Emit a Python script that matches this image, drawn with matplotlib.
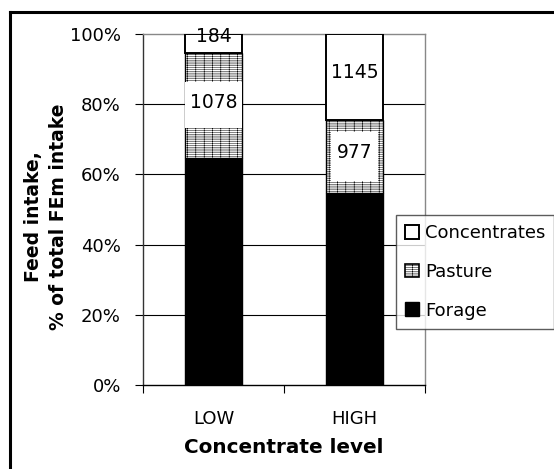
import matplotlib
matplotlib.use("Agg")
import matplotlib.pyplot as plt
from matplotlib.lines import Line2D
from matplotlib.patches import Patch, Rectangle

plt.rcParams['font.family'] = ['DejaVu Sans']
plt.rcParams['hatch.linewidth'] = 0.35

categories = ["LOW", "HIGH"]
forage = [64.8, 54.6]
pasture = [29.9, 20.9]
concentrates = [5.3, 24.5]
pasture_labels = ["1078", "977"]
conc_labels = ["184", "1145"]
yticks = [0, 20, 40, 60, 80, 100]

# label box styling (fraction of bar width, height in % units) and text offsets (pt)
box_wfrac = [1.0, 0.82]
box_h = [13.0, 14.0]
past_dy = [2, 3]
conc_dy = [5, 3]

W, H = 554, 469
fig = plt.figure(figsize=(W / 100, H / 100), dpi=100)
ax = fig.add_axes([143 / W, 1 - 385 / H, (425 - 143) / W, (385 - 34) / H])

x = list(range(len(categories)))
bw = 0.41
PHATCH = '||---------'
ax.bar(x, forage, bw, color='black', edgecolor='black', linewidth=1, zorder=3)
ax.bar(x, pasture, bw, bottom=forage, color='white', edgecolor='black',
       hatch=PHATCH, linewidth=1, zorder=3)
bot2 = [f + p for f, p in zip(forage, pasture)]
ax.bar(x, concentrates, bw, bottom=bot2, color='white', edgecolor='black',
       linewidth=1.4, zorder=3)

for i in x:
    yc = forage[i] + pasture[i] / 2
    bwid = bw * box_wfrac[i]
    ax.add_patch(Rectangle((i - bwid / 2, yc - box_h[i] / 2), bwid, box_h[i],
                           fc='white', ec='none', zorder=4))
    ax.annotate(pasture_labels[i], (i, yc), xytext=(0, past_dy[i]),
                textcoords='offset points', ha='center', va='center',
                fontsize=13.5, zorder=5)
    ax.annotate(conc_labels[i], (i, bot2[i] + concentrates[i] / 2),
                xytext=(0, conc_dy[i]), textcoords='offset points',
                ha='center', va='center', fontsize=13.5, zorder=5)

ax.set_xlim(-0.5, 1.5)
ax.set_ylim(0, 100)
ax.set_yticks(yticks)
ax.set_yticklabels([f"{v}%" for v in yticks], fontsize=13)
ax.set_xticks(x)
ax.set_xticklabels(categories, fontsize=13)
ax.set_xticks([-0.5, 0.5, 1.5], minor=True)
ax.tick_params(axis='x', which='major', length=0, pad=18)
ax.tick_params(axis='x', which='minor', length=6, direction='out', width=0.8)
ax.tick_params(axis='y', length=6, direction='out', width=0.8, pad=10)
for yv in yticks[1:-1]:
    ax.axhline(yv, color='black', linewidth=0.8, zorder=1)

ax.spines['left'].set_color('#333333')
ax.spines['bottom'].set_color('black')
ax.spines['top'].set_color('#888888')
ax.spines['right'].set_color('#888888')
for s in ax.spines.values():
    s.set_linewidth(1.0)

ax.set_xlabel("Concentrate level", fontsize=14.4, fontweight='bold', labelpad=7)
ax.set_ylabel("Feed intake,\n% of total FEm intake", fontsize=13.5,
              fontweight='bold', linespacing=1.4)
ax.yaxis.set_label_coords((68 - 143) / (425 - 143), (385 - 217) / (385 - 34))

handles = [Patch(facecolor='white', edgecolor='black', linewidth=1.4),
           Patch(facecolor='white', edgecolor='black', hatch=PHATCH, linewidth=1.2),
           Patch(facecolor='black', edgecolor='black')]
leg = fig.legend(handles, ["Concentrates", "Pasture", "Forage"],
                 loc='upper left', bbox_to_anchor=(396 / W, 1 - 215 / H),
                 frameon=True, fancybox=False, fontsize=13,
                 handlelength=0.8, handleheight=0.8, handletextpad=0.3,
                 labelspacing=1.15, borderpad=0.5, borderaxespad=0)
leg.get_frame().set_edgecolor('#333333')
leg.get_frame().set_linewidth(1.0)

fig.add_artist(Line2D([10 / W, 10 / W], [0, 1 - 12 / H], color='black', linewidth=2.2,
                      transform=fig.transFigure))
fig.add_artist(Line2D([10 / W, 1], [1 - 12 / H, 1 - 12 / H], color='black', linewidth=2.2,
                      transform=fig.transFigure))

fig.savefig("out.png", dpi=100)
